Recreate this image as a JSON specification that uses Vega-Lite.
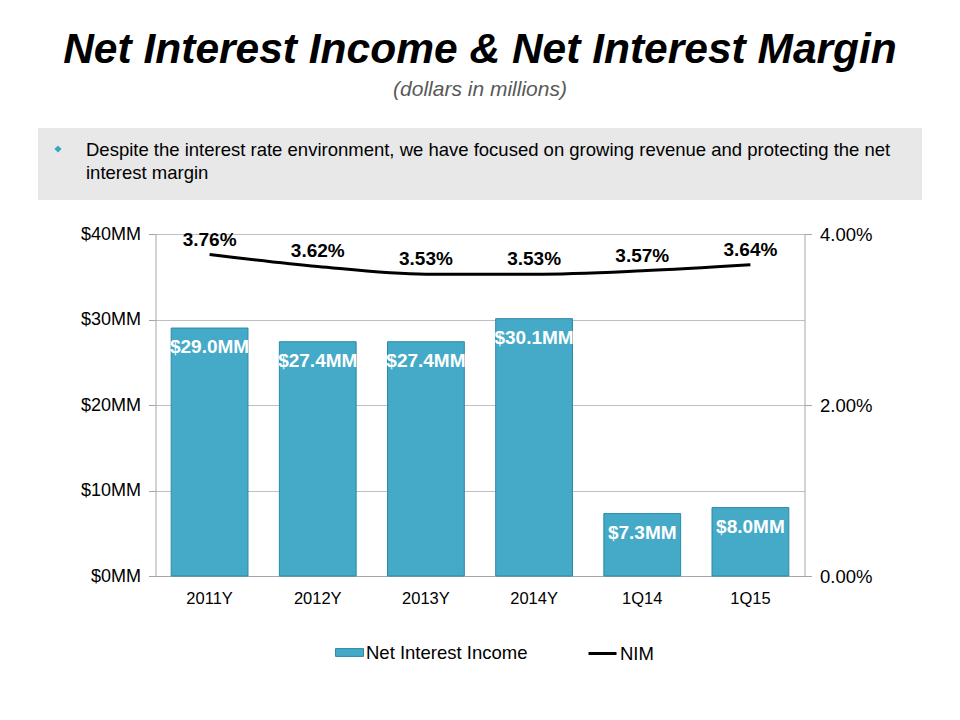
{
  "$schema": "https://vega.github.io/schema/vega-lite/v6.json",
  "background": "white",
  "padding": {"left": 38, "right": 38, "top": 28, "bottom": 50},
  "config": {
    "locale": {"number": {"decimal": ".", "thousands": ",", "grouping": [3], "currency": ["$", "MM"]}},
    "font": "Liberation Sans",
    "view": {"stroke": null}
  },
  "title": {
    "text": "Net Interest Income & Net Interest Margin",
    "subtitle": "(dollars in millions)",
    "font": "Liberation Sans",
    "fontSize": 42.5,
    "fontWeight": "bold",
    "fontStyle": "italic",
    "color": "#000000",
    "subtitleFont": "Liberation Sans",
    "subtitleFontSize": 21,
    "subtitleFontStyle": "italic",
    "subtitleColor": "#595959",
    "subtitlePadding": 8,
    "anchor": "middle",
    "offset": 28
  },
  "datasets": {
    "note": [
      {"line": "Despite the interest rate environment, we have focused on growing revenue and protecting the net\ninterest margin"}
    ],
    "nim": [
      {"period": "2011Y", "nii": 29.0, "nim": 0.0376},
      {"period": "2012Y", "nii": 27.4, "nim": 0.0362},
      {"period": "2013Y", "nii": 27.4, "nim": 0.0353},
      {"period": "2014Y", "nii": 30.1, "nim": 0.0353},
      {"period": "1Q14", "nii": 7.3, "nim": 0.0357},
      {"period": "1Q15", "nii": 8.0, "nim": 0.0364}
    ]
  },
  "spacing": 34,
  "center": true,
  "bounds": "flush",
  "vconcat": [
    {
      "width": 884,
      "height": 72,
      "view": {"fill": "#e8e8e8", "stroke": null},
      "data": {"name": "note"},
      "layer": [
        {
          "mark": {"type": "point", "shape": "diamond", "filled": true, "color": "#3aa3c3", "size": 50, "opacity": 1},
          "encoding": {"x": {"value": 20}, "y": {"value": 21}}
        },
        {
          "mark": {"type": "text", "align": "left", "baseline": "top", "fontSize": 18.5, "lineHeight": 23, "lineBreak": "\n", "color": "#000000"},
          "encoding": {"x": {"value": 48}, "y": {"value": 13}, "text": {"field": "line"}}
        }
      ]
    },
    {
      "width": 649,
      "height": 342,
      "data": {"name": "nim"},
      "encoding": {
        "x": {
          "field": "period",
          "type": "nominal",
          "sort": null,
          "scale": {"paddingInner": 0.29, "paddingOuter": 0.145},
          "axis": {"title": null, "labelFontSize": 16.5, "labelColor": "#000000", "labelPadding": 14, "ticks": false, "domainColor": "#a6a6a6", "labelAngle": 0}
        }
      },
      "layer": [
        {
          "layer": [
            {
              "mark": {"type": "bar", "stroke": "#2b8aa8", "strokeWidth": 1},
              "encoding": {
                "y": {
                  "field": "nii",
                  "type": "quantitative",
                  "scale": {"domain": [0, 40]},
                  "axis": {"title": null, "values": [0, 10, 20, 30, 40], "format": "$.0f", "labelFontSize": 18, "labelColor": "#000000", "gridColor": "#bfbfbf", "domainColor": "#a6a6a6", "tickColor": "#a6a6a6", "tickSize": 7, "labelPadding": 8}
                },
                "fill": {
                  "datum": "Net Interest Income",
                  "scale": {"domain": ["Net Interest Income"], "range": ["#45aac8"]},
                  "legend": {
                    "title": null,
                    "orient": "none",
                    "legendX": 297,
                    "legendY": 510,
                    "labelFontSize": 18.5,
                    "labelColor": "#000000",
                    "labelLimit": 400,
                    "symbolType": "M-1,-0.28H1V0.28H-1Z",
                    "symbolSize": 784,
                    "symbolStrokeColor": "#2b8aa8",
                    "symbolStrokeWidth": 1,
                    "labelOffset": 2
                  }
                }
              }
            },
            {
              "mark": {"type": "text", "color": "white", "fontSize": 19, "fontWeight": "bold", "baseline": "middle", "dy": 19},
              "encoding": {
                "y": {"field": "nii", "type": "quantitative"},
                "text": {"field": "nii", "type": "quantitative", "format": "$.1f"}
              }
            }
          ]
        },
        {
          "layer": [
            {
              "mark": {"type": "line", "strokeWidth": 3, "interpolate": "monotone"},
              "encoding": {
                "y": {
                  "field": "nim",
                  "type": "quantitative",
                  "scale": {"domain": [0, 0.04]},
                  "axis": {"title": null, "orient": "right", "values": [0, 0.02, 0.04], "format": ".2%", "grid": false, "labelFontSize": 18.5, "labelColor": "#000000", "domainColor": "#a6a6a6", "tickColor": "#a6a6a6", "tickSize": 7, "labelPadding": 8}
                },
                "stroke": {
                  "datum": "NIM",
                  "scale": {"domain": ["NIM"], "range": ["#000000"]},
                  "legend": {
                    "title": null,
                    "orient": "none",
                    "legendX": 549,
                    "legendY": 510,
                    "labelFontSize": 18.5,
                    "labelColor": "#000000",
                    "labelLimit": 200,
                    "symbolType": "stroke",
                    "symbolSize": 784,
                    "symbolStrokeWidth": 3,
                    "labelOffset": 2
                  }
                }
              }
            },
            {
              "mark": {"type": "text", "color": "#000000", "fontSize": 19, "fontWeight": "bold", "baseline": "middle", "dy": -15},
              "encoding": {
                "y": {"field": "nim", "type": "quantitative"},
                "text": {"field": "nim", "type": "quantitative", "format": ".2%"}
              }
            }
          ]
        }
      ],
      "resolve": {"scale": {"y": "independent"}}
    }
  ]
}
